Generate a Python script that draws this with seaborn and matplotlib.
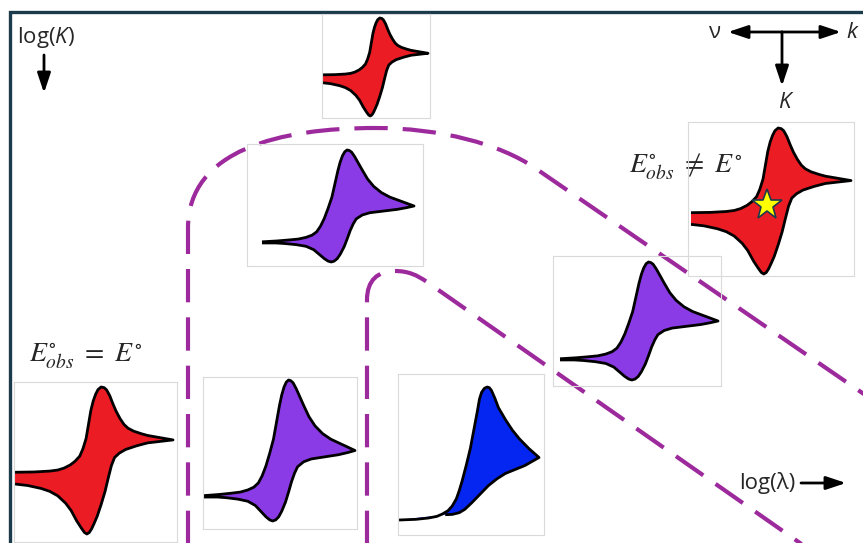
import matplotlib
matplotlib.use("Agg")
import matplotlib.pyplot as plt
from matplotlib.path import Path
from matplotlib.patches import PathPatch
import numpy as np
import pandas as pd
import seaborn as sns

# --- voltammogram shapes (normalised potential E, normalised current i) ---
# reversible (red)
RED_E_FWD = [0.00, 0.12, 0.22, 0.27, 0.31, 0.35, 0.38, 0.41, 0.43, 0.45, 0.465, 0.48, 0.495, 0.51,
             0.525, 0.545, 0.565, 0.58, 0.60, 0.62, 0.64, 0.665, 0.69, 0.715, 0.75, 0.80, 0.84, 0.92, 1.00]
RED_I_FWD = [0.42, 0.422, 0.428, 0.435, 0.448, 0.47, 0.495, 0.53, 0.58, 0.65, 0.745, 0.84, 0.905, 0.95,
             0.982, 1.00, 0.995, 0.98, 0.94, 0.885, 0.835, 0.785, 0.745, 0.72, 0.70, 0.682, 0.67, 0.655, 0.64]
RED_E_REV = [0.92, 0.84, 0.77, 0.70, 0.66, 0.63, 0.61, 0.59, 0.57, 0.545, 0.52, 0.50, 0.485, 0.47,
             0.455, 0.44, 0.42, 0.39, 0.355, 0.32, 0.27, 0.22, 0.165, 0.08, 0.00]
RED_I_REV = [0.63, 0.62, 0.60, 0.575, 0.55, 0.52, 0.465, 0.38, 0.29, 0.20, 0.12, 0.07, 0.035, 0.01,
             0.00, 0.01, 0.04, 0.09, 0.16, 0.21, 0.26, 0.29, 0.31, 0.33, 0.34]

# EC-type (purple)
PUR_E_FWD = [0.00, 0.10, 0.18, 0.24, 0.29, 0.33, 0.36, 0.385, 0.41, 0.435, 0.46, 0.48, 0.50, 0.515,
             0.53, 0.545, 0.56, 0.575, 0.59, 0.61, 0.635, 0.66, 0.695, 0.735, 0.785, 0.84, 0.92, 1.00]
PUR_I_FWD = [0.18, 0.188, 0.197, 0.205, 0.22, 0.24, 0.27, 0.32, 0.39, 0.48, 0.58, 0.70, 0.82, 0.895,
             0.95, 0.985, 1.00, 0.995, 0.98, 0.94, 0.88, 0.82, 0.74, 0.675, 0.62, 0.58, 0.54, 0.50]
PUR_E_REV = [0.95, 0.89, 0.80, 0.71, 0.66, 0.62, 0.60, 0.58, 0.56, 0.54, 0.515, 0.495, 0.475, 0.455,
             0.435, 0.41, 0.375, 0.34, 0.29, 0.225, 0.15, 0.09, 0.00]
PUR_I_REV = [0.485, 0.47, 0.455, 0.44, 0.42, 0.385, 0.34, 0.28, 0.205, 0.135, 0.07, 0.03, 0.008, 0.00,
             0.008, 0.03, 0.07, 0.11, 0.14, 0.155, 0.165, 0.17, 0.17]

# irreversible (blue)
BLU_E_FWD = [0.00, 0.12, 0.21, 0.27, 0.31, 0.35, 0.38, 0.41, 0.43, 0.45, 0.48, 0.51, 0.535, 0.56,
             0.575, 0.59, 0.61, 0.63, 0.645, 0.66, 0.685, 0.71, 0.76, 0.81, 0.86, 0.93, 1.00]
BLU_I_FWD = [0.00, 0.005, 0.015, 0.027, 0.045, 0.07, 0.105, 0.16, 0.22, 0.29, 0.41, 0.54, 0.68, 0.82,
             0.91, 0.96, 0.99, 1.00, 0.995, 0.975, 0.915, 0.845, 0.755, 0.675, 0.61, 0.535, 0.47]
BLU_E_REV = [0.95, 0.90, 0.83, 0.76, 0.70, 0.64, 0.58, 0.52, 0.47, 0.43, 0.38, 0.33]
BLU_I_REV = [0.44, 0.41, 0.38, 0.35, 0.31, 0.26, 0.195, 0.13, 0.08, 0.055, 0.042, 0.04]

SHAPES = {
    "red": (RED_E_FWD, RED_I_FWD, RED_E_REV, RED_I_REV, "#ec1c24"),
    "purple": (PUR_E_FWD, PUR_I_FWD, PUR_E_REV, PUR_I_REV, "#8a3be6"),
    "blue": (BLU_E_FWD, BLU_I_FWD, BLU_E_REV, BLU_I_REV, "#0526f0"),
}

# star marking the shifted formal potential
STAR_E = [0.475]
STAR_I = [0.47]

# guide curves (pixel space of the canvas)
OUTER_X = [188, 188, 188, 280, 375, 440, 500, 535, 890]
OUTER_Y = [560, 228, 150, 128, 128, 128, 144, 168, 412]
INNER_X = [367, 367, 367, 378, 395, 408, 417, 427, 830]
INNER_Y = [560, 300, 280, 271, 271, 271, 275, 282, 564]
GUIDE_CODES = [Path.MOVETO, Path.LINETO, Path.CURVE4, Path.CURVE4, Path.CURVE4,
               Path.CURVE4, Path.CURVE4, Path.CURVE4, Path.LINETO]

W, H = 863, 543
FRAME = "#1b3a4b"
GUIDE = "#9d2a9c"

sns.set_style("white")
plt.rcParams["font.family"] = ["Open Sans", "DejaVu Sans"]
plt.rcParams["mathtext.fontset"] = "custom"
plt.rcParams["mathtext.rm"] = "Open Sans"
plt.rcParams["mathtext.it"] = "Open Sans:italic"

fig = plt.figure(figsize=(W / 100, H / 100), dpi=100)
ax = fig.add_axes([0, 0, 1, 1])
ax.set_xlim(0, W)
ax.set_ylim(H, 0)
ax.axis("off")

# frame
ax.plot([10, 10, 880], [560, 12, 12], color=FRAME, lw=2.4, solid_joinstyle="miter")

# dashed guide curves
for gx, gy in [(OUTER_X, OUTER_Y), (INNER_X, INNER_Y)]:
    p = Path(np.column_stack([gx, gy]), GUIDE_CODES)
    ax.add_patch(PathPatch(p, fc="none", ec=GUIDE, lw=3.0,
                           ls=(0, (8, 3.6)), capstyle="butt", zorder=3))


def arrow(x0, y0, x1, y1):
    ax.annotate("", xy=(x1, y1), xytext=(x0, y0),
                arrowprops=dict(arrowstyle="-|>,head_length=1.2,head_width=0.4",
                                lw=2.0, color="black", shrinkA=0, shrinkB=0,
                                mutation_scale=10))


# axis labels / key
ax.text(17, 38, r"log($\mathit{K}$)", fontsize=16, va="center", ha="left")
arrow(44, 55, 44, 93)

ax.text(715, 32, "ν", fontsize=16, va="center", ha="center")
arrow(782, 32, 728, 32)
arrow(782, 32, 841, 32)
arrow(782, 32, 782, 86)
ax.text(852, 32, "k", fontsize=16, style="italic", va="center", ha="center")
ax.text(784, 102, "K", fontsize=16, style="italic", va="center", ha="center")

ax.text(739, 483, "log(λ)", fontsize=16, va="center", ha="left")
arrow(801, 483, 846, 483)

ax.text(29, 356, r"$E^{\circ}_{obs}\ =\ E^{\circ}$", fontsize=20,
        math_fontfamily="stix", va="center", ha="left")
ax.text(629, 167, r"$E^{\circ}_{obs}\ \neq\ E^{\circ}$", fontsize=20,
        math_fontfamily="stix", va="center", ha="left")

# voltammogram insets: shape, box (x0, y0, x1, y1), curve span (E0 px, E1 px, i0 px, i1 px)
INSETS = [
    ("red", (14, 382, 177, 542), (15, 173, 534, 387), False),
    ("red", (322, 14, 430, 118), (322, 428, 116, 18), False),
    ("red", (688, 122, 854, 276), (691, 851, 274, 128), True),
    ("purple", (247, 144, 423, 266), (262, 414, 262, 150), False),
    ("purple", (553, 256, 721, 386), (560, 718, 380, 262), False),
    ("purple", (203, 377, 357, 529), (204, 355, 521, 380), False),
    ("blue", (398, 374, 544, 535), (399, 539, 520, 387), False),
]

for name, (bx0, by0, bx1, by1), (cx0, cx1, cy0, cy1), star in INSETS:
    ef, i_f, er, i_r, col = SHAPES[name]
    iax = fig.add_axes([bx0 / W, 1 - by1 / H, (bx1 - bx0) / W, (by1 - by0) / H])
    iax.patch.set_alpha(0)
    sx = cx1 - cx0
    sy = cy0 - cy1
    iax.set_xlim((bx0 - cx0) / sx, (bx1 - cx0) / sx)
    iax.set_ylim((cy0 - by1) / sy, (cy0 - by0) / sy)
    iax.set_xticks([])
    iax.set_yticks([])
    for s in iax.spines.values():
        s.set_color("#dadada")
        s.set_linewidth(0.8)
    loop = pd.DataFrame({"E": list(ef) + list(er), "i": list(i_f) + list(i_r)})
    iax.fill(loop["E"], loop["i"], color=col, lw=0, clip_on=False)
    sns.lineplot(data=loop, x="E", y="i", sort=False, estimator=None,
                 color="black", lw=2.0, ax=iax)
    for ln in iax.lines:
        ln.set_clip_on(False)
        ln.set_solid_joinstyle("round")
        ln.set_solid_capstyle("butt")
    iax.set_xlabel("")
    iax.set_ylabel("")
    if star:
        iax.plot(STAR_E, STAR_I, marker="*", ms=23, mfc="#ffff00",
                 mec=FRAME, mew=1.2, ls="none", clip_on=False)

fig.savefig("out.png", dpi=100)
